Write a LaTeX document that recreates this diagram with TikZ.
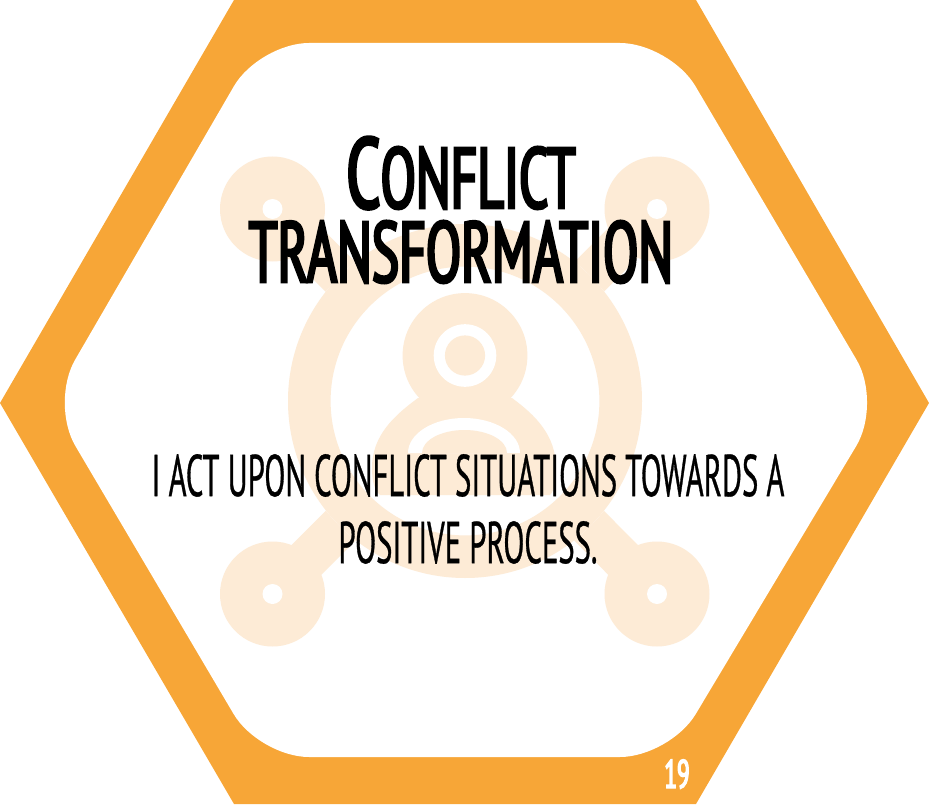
\documentclass[tikz,border=0pt]{standalone}
\usepackage{fontspec}
\newfontfamily\titlefont[FakeStretch=0.6,FakeBold=3.2]{PT Sans}
\newfontfamily\bodyfont[FakeStretch=0.52,FakeBold=0.5]{PT Sans}
\newfontfamily\numfont[FakeStretch=0.58,FakeBold=3.5]{PT Sans}
\definecolor{hexorange}{HTML}{F7A637}
\definecolor{iconcream}{HTML}{FDEBD6}
\tikzset{
    satellite/.style={circle, fill=iconcream, minimum size=105, inner sep=0},
    pinhole/.style={circle, fill=white, minimum size=20, inner sep=0},
    spoke/.style={iconcream, line width=42},
    cardtitle/.style={font=\titlefont\fontsize{86}{74}\selectfont, align=center, text=black, inner sep=0},
    cardtext/.style={font=\bodyfont\fontsize{59}{67}\selectfont, align=center, text=black, inner sep=0}
}
\begin{document}
\begin{tikzpicture}[x=1pt,y=-1pt]
        \useasboundingbox (0,0) rectangle (929,805);
        % Define the hexagon
        \fill[hexorange] (0,403) -- (234,0) -- (696,0) -- (929,403) -- (696,804) -- (234,804) -- cycle;
        \fill[white, rounded corners=50] (50,403) -- (259,43) -- (670,43) -- (882,403) -- (670,757) -- (259,757) -- cycle;

        % Define the icon
        \node[circle, minimum size=354, inner sep=0] (ring) at (465,401) {};
        \foreach \name/\x/\y in {tl/272.5/209, tr/657/209, bl/272.5/594, br/657/594}
            \node[satellite] (\name) at (\x,\y) {};
        \foreach \name in {tl, tr, bl, br}
            \draw[spoke] (\name.center) -- (ring.center);
        \fill[white] (ring.center) circle (177);
        \draw[iconcream, line width=42.6] (ring.center) circle (155.7);
        \foreach \name in {tl, tr, bl, br}
            \node[pinhole] at (\name.center) {};

        % Person
        \fill[iconcream] (418,398) .. controls (395,415) and (372,435) .. (372,468) .. controls (372,480) and (374,490) .. (380,495) -- (550,495) .. controls (555,490) and (556,480) .. (556,468) .. controls (556,435) and (535,415) .. (512,398) -- cycle;
        \fill[iconcream] (465,355.5) circle (62.4);
        \fill[white] (465,355.5) circle (31.3);
        \fill[iconcream] (465,355.5) circle (20.1);
        \fill[white] (408,453) arc (180:360:56 and 35) -- cycle;
        \fill[iconcream] (422,453) arc (180:360:42.5 and 23) -- cycle;

        % Texts
        \node[cardtitle] (title) at (461,210) {\fontsize{100}{74}\selectfont C\fontsize{86}{74}\selectfont ONFLICT\\TRANSFORMATION};
        \node[cardtext] (line) at (468,509) {I ACT UPON CONFLICT SITUATIONS TOWARDS A\\POSITIVE PROCESS.};
        \node[font=\numfont\fontsize{40}{40}\selectfont, text=white, inner sep=0] (page) at (677,774) {19};
    \end{tikzpicture}
\end{document}
